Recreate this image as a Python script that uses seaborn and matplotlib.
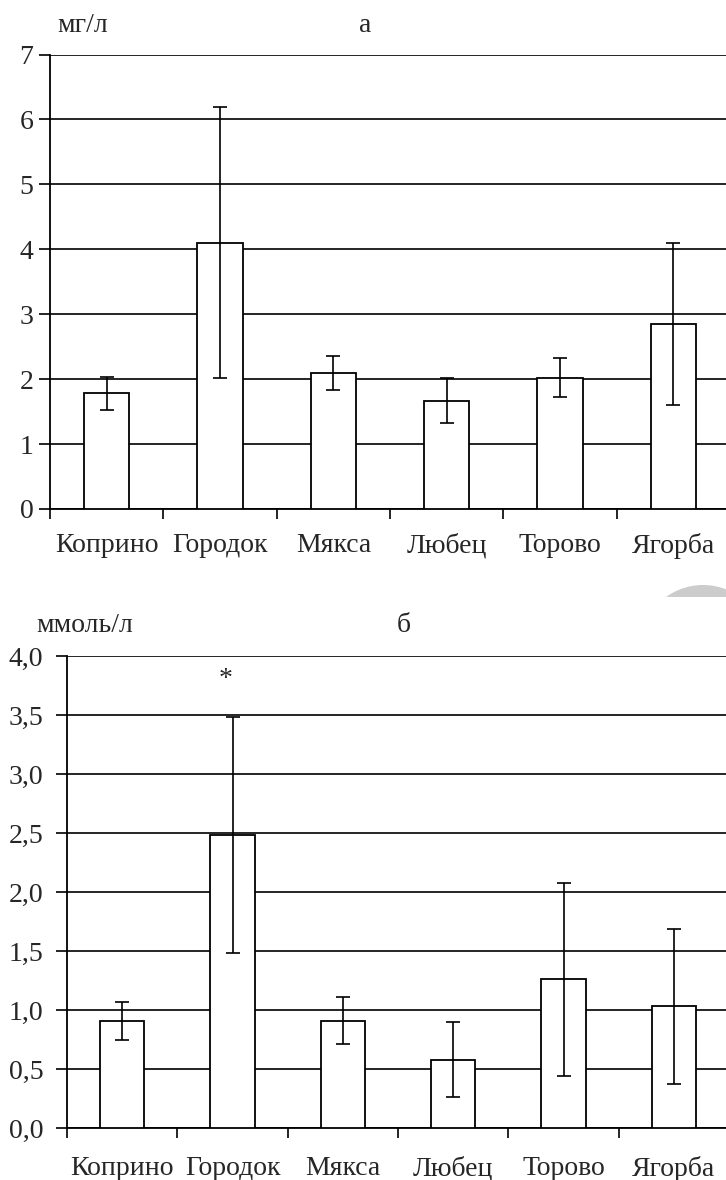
import numpy as np
import pandas as pd
import matplotlib
matplotlib.use("Agg")
import matplotlib.pyplot as plt
import seaborn as sns
from matplotlib.patches import Circle, Rectangle

# Данные
villages = ['Коприно', 'Городок', 'Мякса', 'Любец', 'Торово', 'Ягорба']

# а: мг/л
mean_a = [1.78, 4.10, 2.10, 1.67, 2.02, 2.85]
err_a = [0.26, 2.09, 0.26, 0.35, 0.30, 1.25]

# б: ммоль/л
mean_b = [0.91, 2.48, 0.91, 0.58, 1.26, 1.03]
err_b = [0.16, 1.00, 0.20, 0.32, 0.82, 0.66]

ticks_a = [0, 1, 2, 3, 4, 5, 6, 7]
ticks_b = [0.0, 0.5, 1.0, 1.5, 2.0, 2.5, 3.0, 3.5, 4.0]

sns.set_theme(style="white")
plt.rcParams['font.family'] = ['Liberation Serif', 'DejaVu Serif']
FS = 20

W, H = 726, 1180
fig = plt.figure(figsize=(W / 100, H / 100), dpi=100)


def draw_panel(rect, means, errs, yticks, ylabels, ylim, ypad, xpad):
    ax = fig.add_axes(rect)
    df = pd.DataFrame({'village': villages, 'value': means})
    sns.barplot(data=df, x='village', y='value', ax=ax, width=0.4,
                color='white', edgecolor='black', linewidth=1.3,
                saturation=1, zorder=3)
    ax.errorbar(np.arange(len(villages)), means, yerr=errs, fmt='none',
                ecolor='black', elinewidth=1.2, capsize=4.7, capthick=1.2,
                zorder=4)
    ax.set_xlim(-0.5, len(villages) - 0.5)
    ax.set_ylim(*ylim)
    ax.set_yticks(yticks)
    ax.set_yticklabels(ylabels, fontsize=FS)
    ax.yaxis.grid(True, color='black', linewidth=1.2, zorder=0)
    ax.set_axisbelow(True)
    ax.set_xticks(np.arange(-0.5, len(villages) - 0.5, 1))
    ax.set_xticklabels([])
    ax.set_xticks(np.arange(len(villages)), minor=True)
    ax.set_xticklabels(villages, minor=True, fontsize=FS)
    ax.tick_params(axis='x', which='major', direction='out', length=7,
                   width=1.2, color='black', bottom=True)
    ax.tick_params(axis='x', which='minor', length=0, pad=xpad, bottom=True)
    ax.tick_params(axis='y', direction='out', length=8, width=1.2,
                   color='black', pad=ypad, left=True)
    ax.set_xlabel('')
    ax.set_ylabel('')
    for s in ['top', 'right']:
        ax.spines[s].set_visible(False)
    for s in ['left', 'bottom']:
        ax.spines[s].set_color('black')
        ax.spines[s].set_linewidth(1.3)
    ax.patch.set_alpha(0)
    return ax


ax_a = draw_panel([50 / W, 1 - 509 / H, 680 / W, 454.5 / H],
                  mean_a, err_a, ticks_a, [str(t) for t in ticks_a],
                  (0, 7), 4, 17)
ax_b = draw_panel([67 / W, 1 - 1128 / H, 662 / W, 472 / H],
                  mean_b, err_b, ticks_b,
                  [f'{t:.1f}'.replace('.', ',') for t in ticks_b],
                  (0, 4), 9, 20)

# звёздочка над Городком
ax_b.annotate('*', xy=(1, 3.80), xytext=(-5, 0), textcoords='offset points',
              ha='center', va='center', fontsize=FS)

fig.text(83 / W, 1 - 25 / H, 'мг/л', ha='center', va='center', fontsize=FS)
fig.text(365 / W, 1 - 25 / H, 'а', ha='center', va='center', fontsize=FS)
fig.text(85 / W, 1 - 625 / H, 'ммоль/л', ha='center', va='center', fontsize=FS)
fig.text(404 / W, 1 - 625 / H, 'б', ha='center', va='center', fontsize=FS)

# серый след от водяного знака справа
bg = fig.add_axes([0, 0, 1, 1], zorder=-1)
bg.set_xlim(0, W)
bg.set_ylim(H, 0)
bg.axis('off')
circ = Circle((703, 648), 63, color='#cccccc', lw=0)
bg.add_patch(circ)
clip = Rectangle((600, 560), 200, 37, transform=bg.transData)
circ.set_clip_path(clip)

fig.savefig('out.png', dpi=100)
